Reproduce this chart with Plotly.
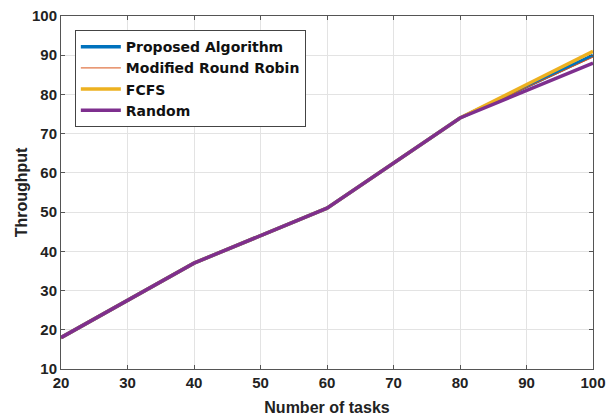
import plotly.graph_objects as go

tasks = [20, 40, 60, 80, 100]
proposed = [18, 37, 51, 74, 90]
modified_rr = [18, 37, 51, 74, 89.5]
fcfs = [18, 37, 51, 74, 91]
random_alloc = [18, 37, 51, 74, 88]

series = [
    ("Proposed Algorithm", proposed, "#0072BD", 3.5),
    ("Modified Round Robin", modified_rr, "#D95319", 1),
    ("FCFS", fcfs, "#EDB120", 3.5),
    ("Random", random_alloc, "#7E2F8E", 3.5),
]

fig = go.Figure()
for name, ys, color, w in series:
    fig.add_trace(go.Scatter(x=tasks, y=ys, mode="lines", name=name,
                             line=dict(color=color, width=w)))

font_fam = "Liberation Sans, Arial, sans-serif"
axis_common = dict(
    showgrid=True, gridcolor="#e3e3e3", gridwidth=1,
    showline=True, linecolor="#555", linewidth=1, mirror="ticks",
    ticks="inside", ticklen=4, tickcolor="#555",
    tickfont=dict(family=font_fam, size=15, color="#222", weight="bold"),
    zeroline=False, automargin=False,
)
fig.update_xaxes(range=[20, 100], dtick=10, tick0=20,
                 title=dict(text="Number of tasks", standoff=11,
                            font=dict(family=font_fam, size=16, color="#222", weight="bold")),
                 **axis_common)
fig.update_yaxes(range=[10, 100], dtick=10, tick0=10,
                 title=dict(text="Throughput", standoff=0,
                            font=dict(family=font_fam, size=16, color="#222", weight="bold")),
                 **axis_common)

fig.update_layout(
    width=608, height=418,
    margin=dict(l=61, r=15, t=16, b=49),
    plot_bgcolor="white", paper_bgcolor="white",
    showlegend=True,
    legend=dict(x=0.026, y=0.96, xanchor="left", yanchor="top",
                bgcolor="white", bordercolor="#444", borderwidth=1,
                font=dict(family="DejaVu Sans, sans-serif", size=14, color="#111", weight="bold"),
                tracegroupgap=0, itemwidth=40),
)

fig.write_html(
    "out.html",
    config={"displayModeBar": False},
    post_script=(
        "document.body.style.margin='0';"
        "document.body.style.overflow='hidden';"
        "document.documentElement.style.overflow='hidden';"
    ),
)
